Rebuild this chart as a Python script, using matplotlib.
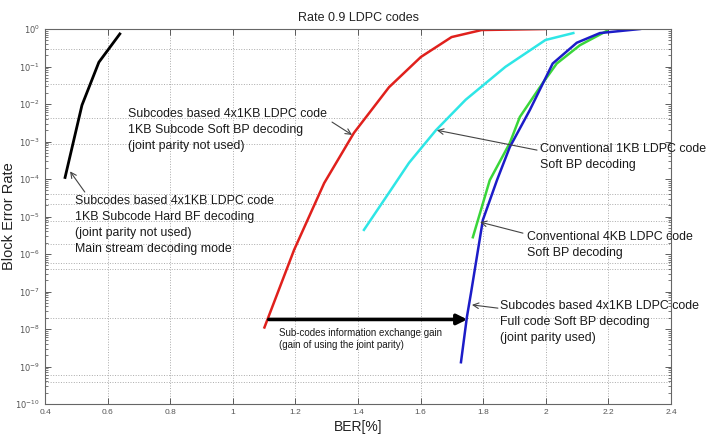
import matplotlib
matplotlib.use("Agg")
import matplotlib.pyplot as plt
from matplotlib.ticker import LogLocator, NullFormatter, FixedLocator

# BER [%] vs block error rate
hard_bf_x = [0.464, 0.518, 0.572, 0.639]
hard_bf_y = [1.1e-4, 9.3e-3, 0.13, 0.74]

sub_bp_x = [1.101, 1.196, 1.292, 1.387, 1.499, 1.601, 1.699, 1.795, 1.996]
sub_bp_y = [1.1e-8, 1.3e-6, 7.8e-5, 1.7e-3, 2.8e-2, 0.18, 0.61, 0.94, 1.0]

conv1k_x = [1.419, 1.499, 1.563, 1.649, 1.744, 1.871, 1.999, 2.088]
conv1k_y = [4.4e-6, 4.3e-5, 2.7e-4, 2.0e-3, 1.3e-2, 9.8e-2, 0.51, 0.78]

conv4k_x = [1.767, 1.821, 1.885, 1.917, 1.990, 2.035, 2.109, 2.195]
conv4k_y = [2.8e-6, 9.3e-5, 9.1e-4, 4.5e-3, 3.6e-2, 0.12, 0.37, 0.89]

full_x = [1.729, 1.748, 1.761, 1.799, 1.844, 1.885, 1.949, 2.022, 2.099, 2.173, 2.301]
full_y = [1.3e-9, 2.1e-8, 9.1e-8, 8.1e-6, 9.3e-5, 7.1e-4, 6.9e-3, 0.12, 0.43, 0.78, 1.0]

# dotted horizontal grid lines as they appear in the reference
hgrid = [0.29, 0.034, 4.2e-3, 8.6e-4, 4e-5, 2.2e-5, 7.6e-6, 1.85e-6,
         5.8e-7, 4e-7, 2e-8, 5.9e-10, 3.9e-10]

gain_from, gain_to, gain_level = 1.115, 1.749, 1.8e-8

plt.rcParams["font.family"] = ["Liberation Sans", "DejaVu Sans"]

fig = plt.figure(figsize=(7.08, 4.37), dpi=100)
ax = fig.add_axes([0.0636, 0.0755, 0.8841, 0.8581])

ax.plot(hard_bf_x, hard_bf_y, color="black", lw=2.0)
ax.plot(sub_bp_x, sub_bp_y, color="#e0201c", lw=1.8)
ax.plot(conv1k_x, conv1k_y, color="#2ee6e6", lw=1.8)
ax.plot(conv4k_x, conv4k_y, color="#3ad63a", lw=1.8)
ax.plot(full_x, full_y, color="#1c1cc8", lw=1.8)

ax.set_yscale("log")
ax.set_xlim(0.4, 2.4)
ax.set_ylim(1e-10, 1)
ax.set_xticks([0.4, 0.6, 0.8, 1, 1.2, 1.4, 1.6, 1.8, 2, 2.2, 2.4])
ax.set_xticklabels(["0.4", "0.6", "0.8", "1", "1.2", "1.4", "1.6", "1.8", "2", "2.2", "2.4"])
ax.yaxis.set_major_locator(FixedLocator([10.0 ** -k for k in range(11)]))
ax.set_yticklabels([r"$10^{0}$"] + [r"$10^{-%d}$" % k for k in range(1, 11)])
ax.yaxis.set_minor_locator(LogLocator(base=10, subs=range(2, 10), numticks=20))
ax.yaxis.set_minor_formatter(NullFormatter())
ax.tick_params(which="both", direction="in", top=True, right=True,
               labelsize=6, colors="#444444", labelcolor="#555555")
ax.tick_params(which="major", length=4, width=0.6)
ax.tick_params(which="minor", length=2, width=0.5)
for s in ax.spines.values():
    s.set_color("#666666")
    s.set_linewidth(0.8)

ax.grid(axis="x", which="major", linestyle=":", color="#aaaaaa", lw=0.7)
for g in hgrid:
    ax.axhline(g, linestyle=":", color="#aaaaaa", lw=0.7, zorder=0)

ax.set_title("Rate 0.9 LDPC codes", fontsize=9, color="#222222", pad=6)
ax.set_xlabel("BER[%]", fontsize=10, color="#222222", labelpad=3)
ax.set_ylabel("Block Error Rate", fontsize=10.5, color="#222222")
ax.yaxis.set_label_coords(-0.047, 0.5)

tcol = "#1a1a1a"
fs = 8.9
arrow = dict(arrowstyle="->", color="#444444", lw=0.8, shrinkA=0, shrinkB=0)
ls = 1.42

ax.text(0.496, 3.7e-5, "Subcodes based 4x1KB LDPC code\n1KB Subcode Hard BF decoding\n"
        "(joint parity not used)\nMain stream decoding mode",
        fontsize=fs, ha="left", va="top", color=tcol, linespacing=ls)
ax.annotate("", xy=(0.48, 1.6e-4), xytext=(0.527, 4.5e-5), arrowprops=arrow)

ax.text(0.665, 7.8e-3, "Subcodes based 4x1KB LDPC code\n1KB Subcode Soft BP decoding\n"
        "(joint parity not used)",
        fontsize=fs, ha="left", va="top", color=tcol, linespacing=ls)
ax.annotate("", xy=(1.381, 1.5e-3), xytext=(1.317, 3.3e-3), arrowprops=arrow)

ax.text(1.981, 9.1e-4, "Conventional 1KB LDPC code\nSoft BP decoding",
        fontsize=fs, ha="left", va="top", color=tcol, linespacing=ls)
ax.annotate("", xy=(1.652, 2.0e-3), xytext=(1.972, 5.9e-4), arrowprops=arrow)

ax.text(1.94, 4.1e-6, "Conventional 4KB LDPC code\nSoft BP decoding",
        fontsize=fs, ha="left", va="top", color=tcol, linespacing=ls)
ax.annotate("", xy=(1.79, 7.1e-6), xytext=(1.927, 3.6e-6), arrowprops=arrow)

ax.text(1.854, 5.9e-8, "Subcodes based 4x1KB LDPC code\nFull code Soft BP decoding\n"
        "(joint parity used)",
        fontsize=fs, ha="left", va="top", color=tcol, linespacing=ls)
ax.annotate("", xy=(1.764, 4.4e-8), xytext=(1.847, 3.6e-8), arrowprops=arrow)

ax.annotate("", xy=(gain_to, gain_level), xytext=(gain_from, gain_level),
            arrowprops=dict(arrowstyle="-|>,head_length=0.6,head_width=0.3",
                            color="black", lw=2.6, shrinkA=0, shrinkB=0))
ax.text(1.147, 1.07e-8, "Sub-codes information exchange gain\n(gain of using the joint parity)",
        fontsize=7, ha="left", va="top", color=tcol, linespacing=1.3)

fig.savefig("out.png", dpi=100)
